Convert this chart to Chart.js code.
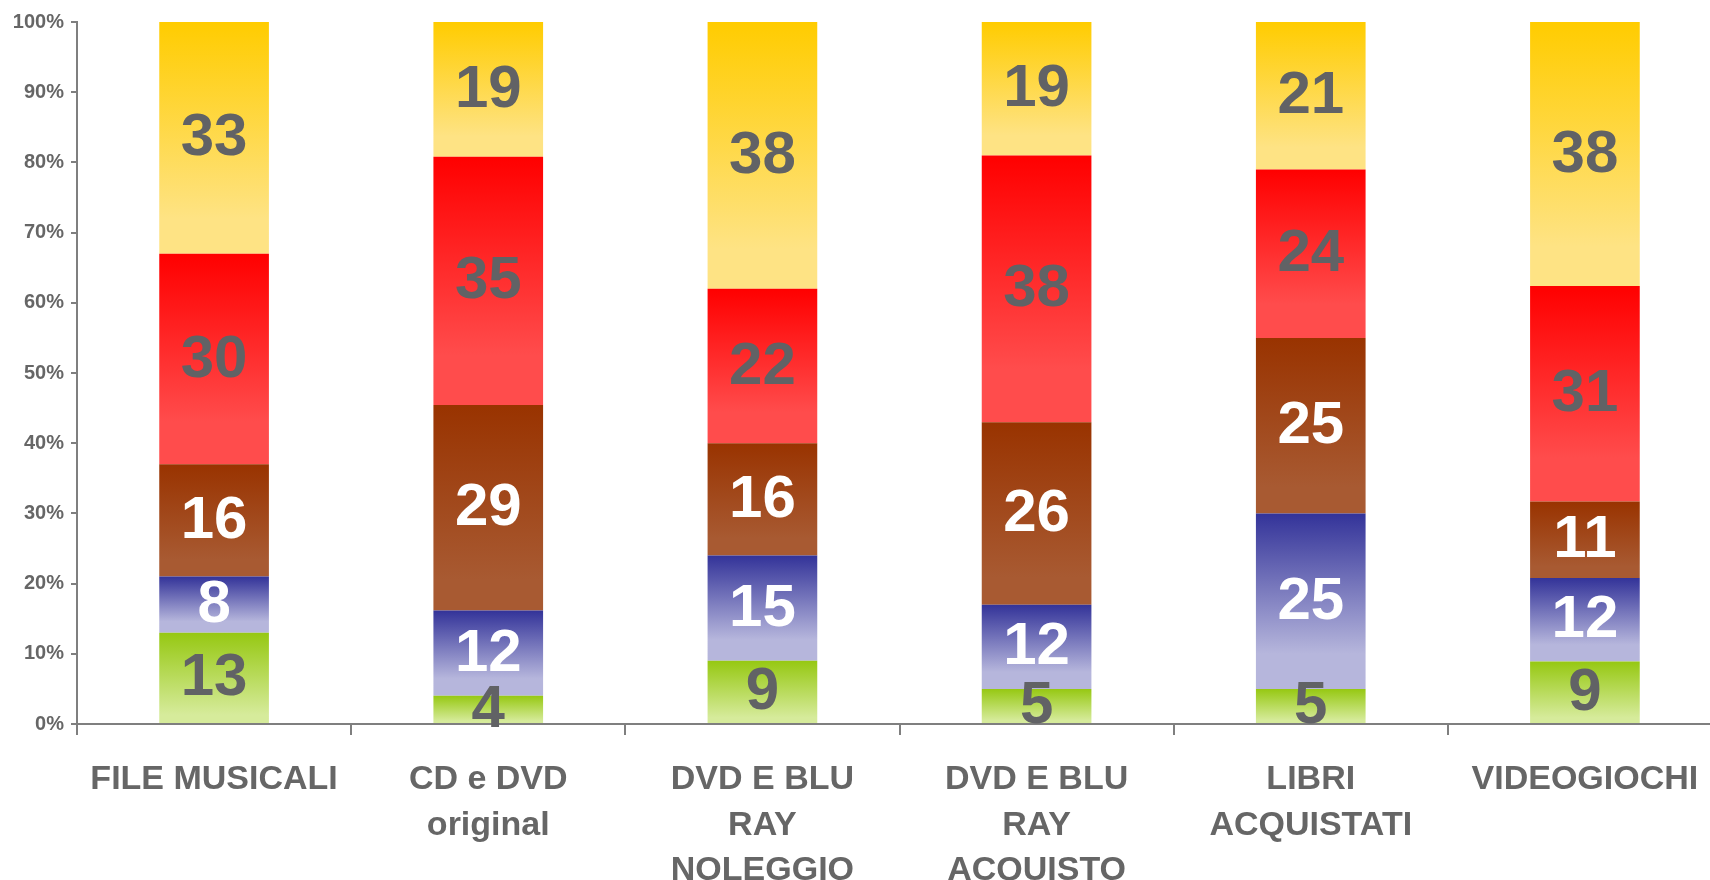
<!DOCTYPE html>
<html>
<head>
<meta charset="utf-8">
<script src="https://cdn.jsdelivr.net/npm/chart.js@4"></script>
<style>
  html, body { margin: 0; padding: 0; background: #fff; overflow: hidden; }
  #wrap { width: 1710px; height: 880px; overflow: hidden; }
</style>
</head>
<body>
<div id="wrap"><canvas id="chart" width="1724" height="880"></canvas></div>
<script>
var categories = [
    'FILE MUSICALI',
    ['CD e DVD', 'original'],
    ['DVD E BLU', 'RAY', 'NOLEGGIO'],
    ['DVD E BLU', 'RAY', 'ACQUISTO'],
    ['LIBRI', 'ACQUISTATI'],
    'VIDEOGIOCHI'
];
var serie_verde  = [13, 4, 9, 5, 5, 9];
var serie_blu    = [8, 12, 15, 12, 25, 12];
var serie_marrone = [16, 29, 16, 26, 25, 11];
var serie_rosso  = [30, 35, 22, 38, 24, 31];
var serie_giallo = [33, 19, 38, 19, 21, 38];
var y_ticks = [0, 10, 20, 30, 40, 50, 60, 70, 80, 90, 100];

var all_series = [serie_verde, serie_blu, serie_marrone, serie_rosso, serie_giallo];

// top colour, light colour, where the light colour is reached, label colour
var styles = [
    { top: '#96c812', bottom: '#d6eb9b', stop: 0.9,  label: '#616265' },
    { top: '#333399', bottom: '#b6b6dc', stop: 0.8,  label: '#ffffff' },
    { top: '#993300', bottom: '#a85a32', stop: 0.85, label: '#ffffff' },
    { top: '#ff0000', bottom: '#ff4c4c', stop: 0.8,  label: '#616265' },
    { top: '#ffcc00', bottom: '#fee384', stop: 0.85, label: '#616265' }
];

// totals per category, to stack as 100%
var totals = categories.map(function(c, j){
    var t = 0;
    for(var s = 0; s < all_series.length; s++) t += all_series[s][j];
    return t;
});
var percent = all_series.map(function(serie){
    return serie.map(function(v, j){ return v / totals[j] * 100; });
});

function gradient_for(ctx, s){
    var chart = ctx.chart;
    var st = styles[s];
    if(!chart.chartArea || !chart.scales.y || ctx.dataIndex === undefined) return st.top;
    var j = ctx.dataIndex;
    var base = 0;
    for(var k = 0; k < s; k++) base += percent[k][j];
    var yTop = chart.scales.y.getPixelForValue(base + percent[s][j]);
    var yBot = chart.scales.y.getPixelForValue(base);
    if(!isFinite(yTop) || !isFinite(yBot) || yBot - yTop < 1) return st.top;
    var g = chart.ctx.createLinearGradient(0, yTop, 0, yBot);
    g.addColorStop(0, st.top);
    g.addColorStop(st.stop, st.bottom);
    g.addColorStop(1, st.bottom);
    return g;
}

var datasets = [];
for(var s = 0; s < all_series.length; s++){
    (function(s){
        datasets.push({
            data: percent[s],
            raw_values: all_series[s],
            backgroundColor: function(ctx){ return gradient_for(ctx, s); },
            borderWidth: 0,
            barPercentage: 0.4,
            categoryPercentage: 1.0
        });
    })(s);
}

var valueLabels = {
    id: 'valueLabels',
    afterDatasetsDraw: function(chart){
        var c = chart.ctx;
        c.save();
        c.font = 'bold 60px "Liberation Sans", Arial, sans-serif';
        c.textAlign = 'center';
        c.textBaseline = 'middle';
        chart.data.datasets.forEach(function(ds, s){
            var meta = chart.getDatasetMeta(s);
            meta.data.forEach(function(bar, j){
                var p = bar.getProps(['x', 'y', 'base'], true);
                c.fillStyle = styles[s].label;
                c.fillText(String(ds.raw_values[j]), p.x, (p.y + p.base) / 2 + 1);
            });
        });
        c.restore();
    }
};

var axis_color = '#7f7f7f';
var text_color = '#666666';

new Chart(document.getElementById('chart'), {
    type: 'bar',
    data: { labels: categories, datasets: datasets },
    plugins: [valueLabels],
    options: {
        responsive: false,
        animation: false,
        layout: { padding: { top: 22, right: 2, left: 0, bottom: 0 } },
        plugins: {
            legend: { display: false },
            tooltip: { enabled: false }
        },
        scales: {
            x: {
                stacked: true,
                border: { display: true, color: axis_color, width: 2 },
                grid: {
                    offset: true,
                    drawOnChartArea: false,
                    drawTicks: true,
                    tickLength: 11,
                    color: axis_color,
                    lineWidth: 2
                },
                ticks: {
                    color: text_color,
                    padding: 22,
                    maxRotation: 0,
                    autoSkip: false,
                    font: { family: '"Liberation Sans", Arial, sans-serif', size: 34, weight: 'bold', lineHeight: 1.34 }
                },
                afterFit: function(scale){ scale.height = 156; }
            },
            y: {
                stacked: true,
                min: 0,
                max: 100,
                afterBuildTicks: function(scale){
                    scale.ticks = y_ticks.map(function(v){ return { value: v }; });
                },
                border: { display: true, color: axis_color, width: 2 },
                grid: {
                    drawOnChartArea: false,
                    drawTicks: true,
                    tickLength: 6,
                    color: axis_color,
                    lineWidth: 2
                },
                ticks: {
                    color: text_color,
                    padding: 7,
                    callback: function(v){ return v + '%'; },
                    font: { family: '"Liberation Sans", Arial, sans-serif', size: 20, weight: 'bold' }
                },
                afterFit: function(scale){ scale.width = 77; }
            }
        }
    }
});
</script>
</body>
</html>
